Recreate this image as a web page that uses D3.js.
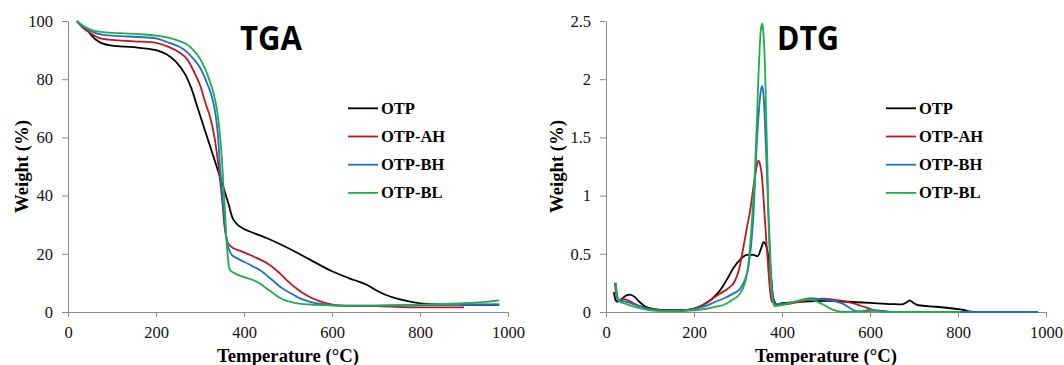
<!DOCTYPE html>
<html>
<head>
<meta charset="utf-8">
<script src="https://cdn.jsdelivr.net/npm/d3@7"></script>
</head>
<body style="margin:0; background:#fff">
<svg id="chartsvg"></svg>
<script>
// series names + colours (same order in both panels)
var seriesNames = ["OTP", "OTP-AH", "OTP-BH", "OTP-BL"];
var seriesColors = ["#000000", "#c01820", "#1f70c1", "#1fae4b"];

var tempTicks = [0, 200, 400, 600, 800, 1000];
var tgaTicks = [0, 20, 40, 60, 80, 100];
var dtgTicks = [0, 0.5, 1, 1.5, 2, 2.5];

// TGA: [temperature, weight %]
var tgaOTP = [[20,100],[30,98.5],[45,96.5],[60,94],[75,92.5],[100,91.5],[150,91],[200,90],[225,88.5],[245,86],[265,82],[280,77],[295,70],[310,63],[325,56],[340,49],[355,42],[365,37],[375,32],[385,30],[400,28.5],[450,25.5],[500,22],[550,18],[600,14],[650,11],[680,9.3],[700,7.5],[720,6],[750,4.5],[800,3],[850,2.6],[900,2.5],[980,2.5]];
var tgaAH = [[20,100],[35,97.5],[50,96],[70,94.2],[100,93.5],[150,93],[200,92.5],[230,91],[255,89],[270,87],[285,83],[300,78],[312,72],[323,67],[333,60],[342,50],[350,39],[357,28],[364,23.5],[375,22],[400,20.5],[430,18.5],[455,16.5],[480,13.5],[500,10.5],[520,8],[545,5.5],[570,3.8],[590,2.9],[620,2.2],[700,2],[780,1.6],[900,1.6]];
var tgaBH = [[20,100],[40,97.5],[60,96],[80,95.2],[120,94.8],[160,94.5],[200,94],[230,92.5],[255,91],[270,89.4],[285,87],[300,84],[315,79],[325,75],[333,70],[340,62],[345,51],[352,38],[359,27],[364,22.4],[372,19.6],[390,18],[410,16.5],[436,14.4],[460,11.5],[482,8.7],[505,6.5],[527,4.7],[550,3.5],[573,2.8],[600,2.3],[700,2.2],[800,2.3],[900,2.5],[980,2.6]];
var tgaBL = [[20,100],[40,97.8],[60,96.6],[80,96.2],[120,95.8],[160,95.5],[200,95],[230,94.2],[255,93],[270,92],[285,90],[300,87],[312,83.5],[323,79],[331,75],[338,70],[345,61.5],[350,52],[353,44],[357,34],[360,24.7],[364,18],[368,14.4],[380,13.2],[398,12.1],[420,11],[436,9.8],[452,8],[467,6.4],[482,4.8],[497,3.8],[515,3.1],[535,2.7],[600,2.3],[700,2.2],[800,2.5],[900,3],[950,3.5],[980,4]];

// DTG: [temperature, rate]
var dtgOTP = [[18,0.17],[22,0.1],[26,0.09],[35,0.11],[45,0.14],[55,0.15],[65,0.13],[75,0.09],[90,0.045],[110,0.025],[140,0.015],[170,0.015],[200,0.03],[220,0.06],[240,0.11],[260,0.19],[275,0.28],[290,0.38],[305,0.45],[320,0.49],[335,0.49],[345,0.48],[352,0.54],[358,0.6],[364,0.57],[370,0.45],[375,0.3],[380,0.12],[388,0.07],[400,0.075],[450,0.09],[500,0.095],[550,0.088],[600,0.078],[650,0.068],[672,0.065],[682,0.08],[690,0.1],[698,0.08],[710,0.058],[750,0.045],[800,0.025],[815,0.015],[828,0.003],[850,0]];
var dtgAH = [[20,0.25],[24,0.14],[28,0.1],[40,0.11],[50,0.1],[65,0.07],[85,0.04],[110,0.02],[150,0.012],[190,0.02],[215,0.05],[240,0.11],[260,0.16],[280,0.21],[292,0.26],[302,0.36],[312,0.55],[320,0.72],[328,0.88],[336,1.1],[342,1.24],[346,1.3],[350,1.27],[354,1.18],[358,0.98],[361,0.8],[365,0.58],[369,0.36],[373,0.18],[377,0.09],[385,0.07],[400,0.065],[430,0.08],[470,0.11],[494,0.115],[520,0.105],[547,0.09],[570,0.065],[590,0.04],[610,0.017],[625,0.01],[645,0]];
var dtgBH = [[22,0.25],[26,0.13],[30,0.1],[45,0.09],[60,0.07],[80,0.045],[100,0.025],[130,0.012],[170,0.012],[200,0.025],[225,0.05],[250,0.09],[270,0.12],[290,0.16],[305,0.2],[315,0.27],[323,0.375],[330,0.58],[335,0.83],[339,1.15],[342,1.4],[346,1.65],[350,1.84],[354,1.94],[357,1.9],[359,1.81],[362,1.55],[365,1.26],[368,0.97],[371,0.69],[374,0.42],[376,0.26],[380,0.12],[385,0.07],[400,0.07],[430,0.09],[464,0.12],[500,0.105],[532,0.08],[550,0.045],[562,0.017],[575,0.005],[600,0.01],[620,0.012],[640,0.003],[660,0],[982,0]];
var dtgBL = [[22,0.25],[26,0.12],[30,0.09],[45,0.07],[60,0.05],[80,0.03],[100,0.015],[130,0.008],[170,0.008],[200,0.015],[230,0.03],[255,0.05],[267,0.06],[285,0.1],[305,0.16],[320,0.32],[326,0.5],[330,0.69],[335,0.98],[339,1.26],[343,1.65],[346,1.98],[349,2.25],[352,2.43],[355,2.48],[357,2.43],[359,2.32],[362,2.02],[364,1.69],[367,1.25],[369,0.83],[372,0.5],[374,0.32],[376,0.2],[380,0.08],[384,0.05],[400,0.06],[430,0.09],[464,0.11],[485,0.08],[502,0.046],[515,0.02],[524,0.01],[540,0],[580,0.005],[600,0.02],[615,0.01],[630,0],[805,0]];

var serifFont = "Liberation Serif";

class Panel {
    /**
     * One of the two side by side plots
     */
    constructor(svg, left, yMax, yTicks, series, curve, title, titleX, legendX, yTitleGap) {
        this.svg = svg;
        this.left = left;
        this.yMax = yMax;
        this.yTicks = yTicks;
        this.series = series;
        this.curve = curve;
        this.title = title;
        this.titleX = titleX;
        this.legendX = legendX;
        this.yTitleGap = yTitleGap;
    }

    styleAxis(sel) {
        sel.attr("font-family", serifFont).attr("font-size", 16.5);
        sel.selectAll("path, line").attr("stroke", "#8c8c8c");
        sel.selectAll("text").attr("fill", "#111");
    }

    draw() {
        var that = this;
        var top = 21, bottom = 312, plotW = 440;

        var x = d3.scaleLinear().domain([0, 1000]).range([this.left, this.left + plotW]);
        var y = d3.scaleLinear().domain([0, this.yMax]).range([bottom, top]);

        var g = this.svg.append("g");

        g.append("g")
            .attr("transform", "translate(0," + bottom + ")")
            .call(d3.axisBottom(x).tickValues(tempTicks).tickFormat(d3.format("d")).tickSize(5).tickSizeOuter(0).tickPadding(9))
            .call(this.styleAxis);

        g.append("g")
            .attr("transform", "translate(" + this.left + ",0)")
            .call(d3.axisLeft(y).tickValues(this.yTicks).tickFormat(d3.format("~g")).tickSize(6).tickSizeOuter(0).tickPadding(9))
            .call(this.styleAxis);

        var line = d3.line()
            .x(function(d) { return x(d[0]); })
            .y(function(d) { return y(d[1]); })
            .curve(this.curve);

        g.selectAll(".series")
            .data(this.series)
            .enter()
            .append("path")
            .attr("class", "series")
            .attr("fill", "none")
            .attr("stroke", function(d, i) { return seriesColors[i]; })
            .attr("stroke-width", 1.8)
            .attr("stroke-linejoin", "round")
            .attr("d", line);

        // axis titles
        g.append("text")
            .attr("x", this.left + plotW / 2)
            .attr("y", 362)
            .attr("text-anchor", "middle")
            .attr("font-family", serifFont)
            .attr("font-weight", "bold")
            .attr("font-size", 18.7)
            .text("Temperature (\u00b0C)");

        g.append("text")
            .attr("transform", "translate(" + (this.left - this.yTitleGap) + "," + ((top + bottom) / 2) + ") rotate(-90)")
            .attr("text-anchor", "middle")
            .attr("font-family", serifFont)
            .attr("font-weight", "bold")
            .attr("font-size", 18.7)
            .text("Weight (%)");

        g.append("text")
            .attr("x", this.titleX)
            .attr("y", 50)
            .attr("textLength", 62)
            .attr("lengthAdjust", "spacingAndGlyphs")
            .attr("font-family", "Open Sans")
            .attr("font-weight", "bold")
            .attr("font-size", 34)
            .text(this.title);

        // legend
        var legend = g.selectAll(".legend")
            .data(seriesNames)
            .enter()
            .append("g")
            .attr("transform", function(d, i) { return "translate(" + that.legendX + "," + (108.3 + i * 28.2) + ")"; });

        legend.append("line")
            .attr("x1", 0).attr("x2", 30)
            .attr("stroke", function(d, i) { return seriesColors[i]; })
            .attr("stroke-width", 1.8);

        legend.append("text")
            .attr("x", 33)
            .attr("y", 5.5)
            .attr("font-family", serifFont)
            .attr("font-weight", "bold")
            .attr("font-size", 16.5)
            .text(function(d) { return d; });
    }
}

var svg = d3.select("#chartsvg")
    .attr("width", 1064)
    .attr("height", 365);

var tga = new Panel(svg, 68, 100, tgaTicks, [tgaOTP, tgaAH, tgaBH, tgaBL], d3.curveCatmullRom.alpha(0.5), "TGA", 240, 348, 40);
tga.draw();

var dtg = new Panel(svg, 606, 2.5, dtgTicks, [dtgOTP, dtgAH, dtgBH, dtgBL], d3.curveMonotoneX, "DTG", 777, 886, 43);
dtg.draw();
</script>
</body>
</html>
